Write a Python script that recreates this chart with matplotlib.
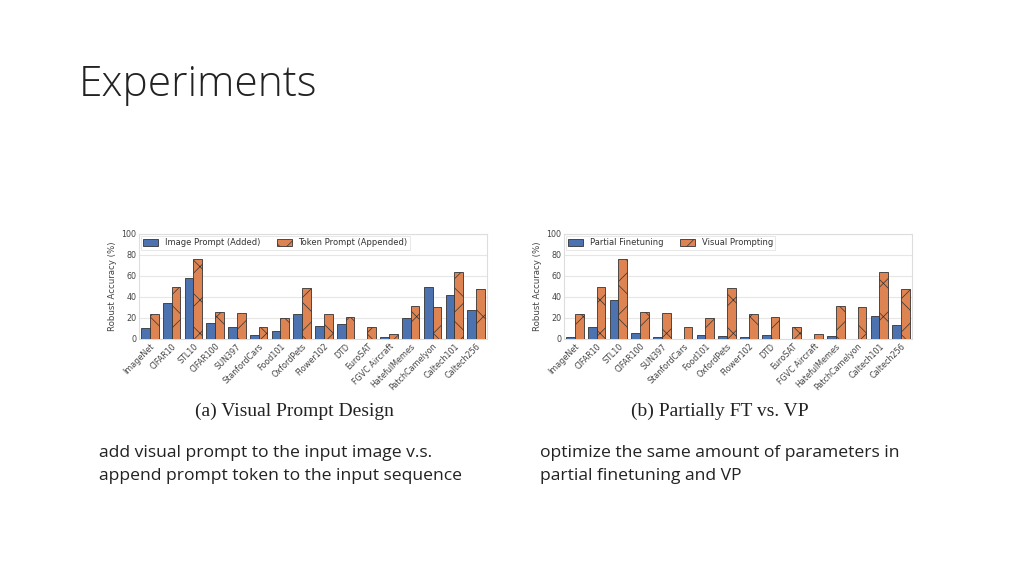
import numpy as np
import matplotlib.pyplot as plt

datasets = ['ImageNet', 'CIFAR10', 'STL10', 'CIFAR100', 'SUN397', 'StanfordCars',
            'Food101', 'OxfordPets', 'Flower102', 'DTD', 'EuroSAT', 'FGVC Aircraft',
            'HatefulMemes', 'PatchCamelyon', 'Caltech101', 'Caltech256']

# (a) visual prompt design
image_prompt = [10.2, 33.8, 58.0, 15.0, 11.0, 4.0, 7.6, 24.0, 12.4, 14.3, 0.3, 2.0, 20.0, 49.4, 42.0, 27.4]
token_prompt = [24.0, 49.4, 75.8, 26.0, 25.0, 11.0, 20.4, 48.7, 24.0, 21.3, 11.5, 4.5, 31.5, 30.9, 64.0, 48.0]

# (b) partial finetuning vs visual prompting
partial_ft = [1.6, 11.8, 37.3, 5.7, 1.6, 0.3, 3.5, 2.5, 1.5, 3.5, 0.0, 0.0, 2.5, 0.0, 21.7, 13.0]
visual_prompting = [24.0, 49.4, 75.8, 26.0, 25.0, 11.0, 20.4, 48.7, 24.0, 21.3, 11.5, 4.5, 31.5, 30.9, 64.0, 48.0]

blue = '#4C72B0'
orange = '#DD8452'

plt.rcParams['hatch.linewidth'] = 0.5
plt.rcParams['hatch.color'] = '#333333'

fig = plt.figure(figsize=(10.24, 5.76), dpi=100)
fig.patch.set_facecolor('white')

fig.text(0.077, 0.852, 'Experiments', fontsize=30.5, color='#222222',
         family=['Open Sans', 'DejaVu Sans'], fontweight='light', va='center')


def draw_panel(left, blue_vals, orange_vals, labels, caption):
    ax = fig.add_axes([left, 0.4115, 0.3398, 0.1823])
    x = np.arange(len(datasets))
    w = 0.4
    ax.bar(x - w / 2, blue_vals, w, color=blue, edgecolor='#333333', linewidth=0.6,
           label=labels[0], zorder=3)
    ax.bar(x + w / 2, orange_vals, w, color=orange, edgecolor='#333333', linewidth=0.6,
           hatch='x', label=labels[1], zorder=3)
    ax.set_xlim(-0.5, len(datasets) - 0.5)
    ax.set_ylim(0, 100)
    ax.set_yticks([0, 20, 40, 60, 80, 100])
    ax.yaxis.grid(True, color='#e6e6e6', linewidth=0.8, zorder=0)
    ax.set_axisbelow(True)
    ax.set_xticks(x)
    ax.set_xticklabels(datasets, rotation=45, ha='right', rotation_mode='anchor')
    ax.tick_params(axis='both', labelsize=5.8, colors='#444444', length=0, pad=2)
    ax.set_ylabel('Robust Accuracy (%)', fontsize=6.2, color='#444444', labelpad=3)
    for s in ax.spines.values():
        s.set_color('#dddddd')
        s.set_linewidth(0.8)
    leg = ax.legend(loc='upper left', ncol=2, fontsize=6.0, frameon=True,
                    borderpad=0.3, handlelength=1.8, handleheight=0.9,
                    columnspacing=2.0, borderaxespad=0.2, fancybox=False)
    leg.get_frame().set_edgecolor('#dddddd')
    leg.get_frame().set_linewidth(0.6)
    for t in leg.get_texts():
        t.set_color('#333333')
    cx = left + 0.3398 / 2 - 18 / 1024
    fig.text(cx, 0.286, caption, fontsize=14, family='Liberation Serif',
             color='#222222', ha='center', va='center')
    return ax


draw_panel(0.1357, image_prompt, token_prompt,
           ['Image Prompt (Added)', 'Token Prompt (Appended)'], '(a) Visual Prompt Design')
draw_panel(0.5508, partial_ft, visual_prompting,
           ['Partial Finetuning', 'Visual Prompting'], '(b) Partially FT vs. VP')

body_font = ['Open Sans', 'DejaVu Sans']
body_size = 12.6
fig.text(0.097, 0.214, 'add visual prompt to the input image v.s.', fontsize=body_size,
         color='#222222', family=body_font, va='center')
fig.text(0.097, 0.174, 'append prompt token to the input sequence', fontsize=body_size,
         color='#222222', family=body_font, va='center')
fig.text(0.527, 0.214, 'optimize the same amount of parameters in', fontsize=body_size,
         color='#222222', family=body_font, va='center')
fig.text(0.527, 0.174, 'partial finetuning and VP', fontsize=body_size,
         color='#222222', family=body_font, va='center')

fig.savefig('out.png', dpi=100, facecolor='white')
